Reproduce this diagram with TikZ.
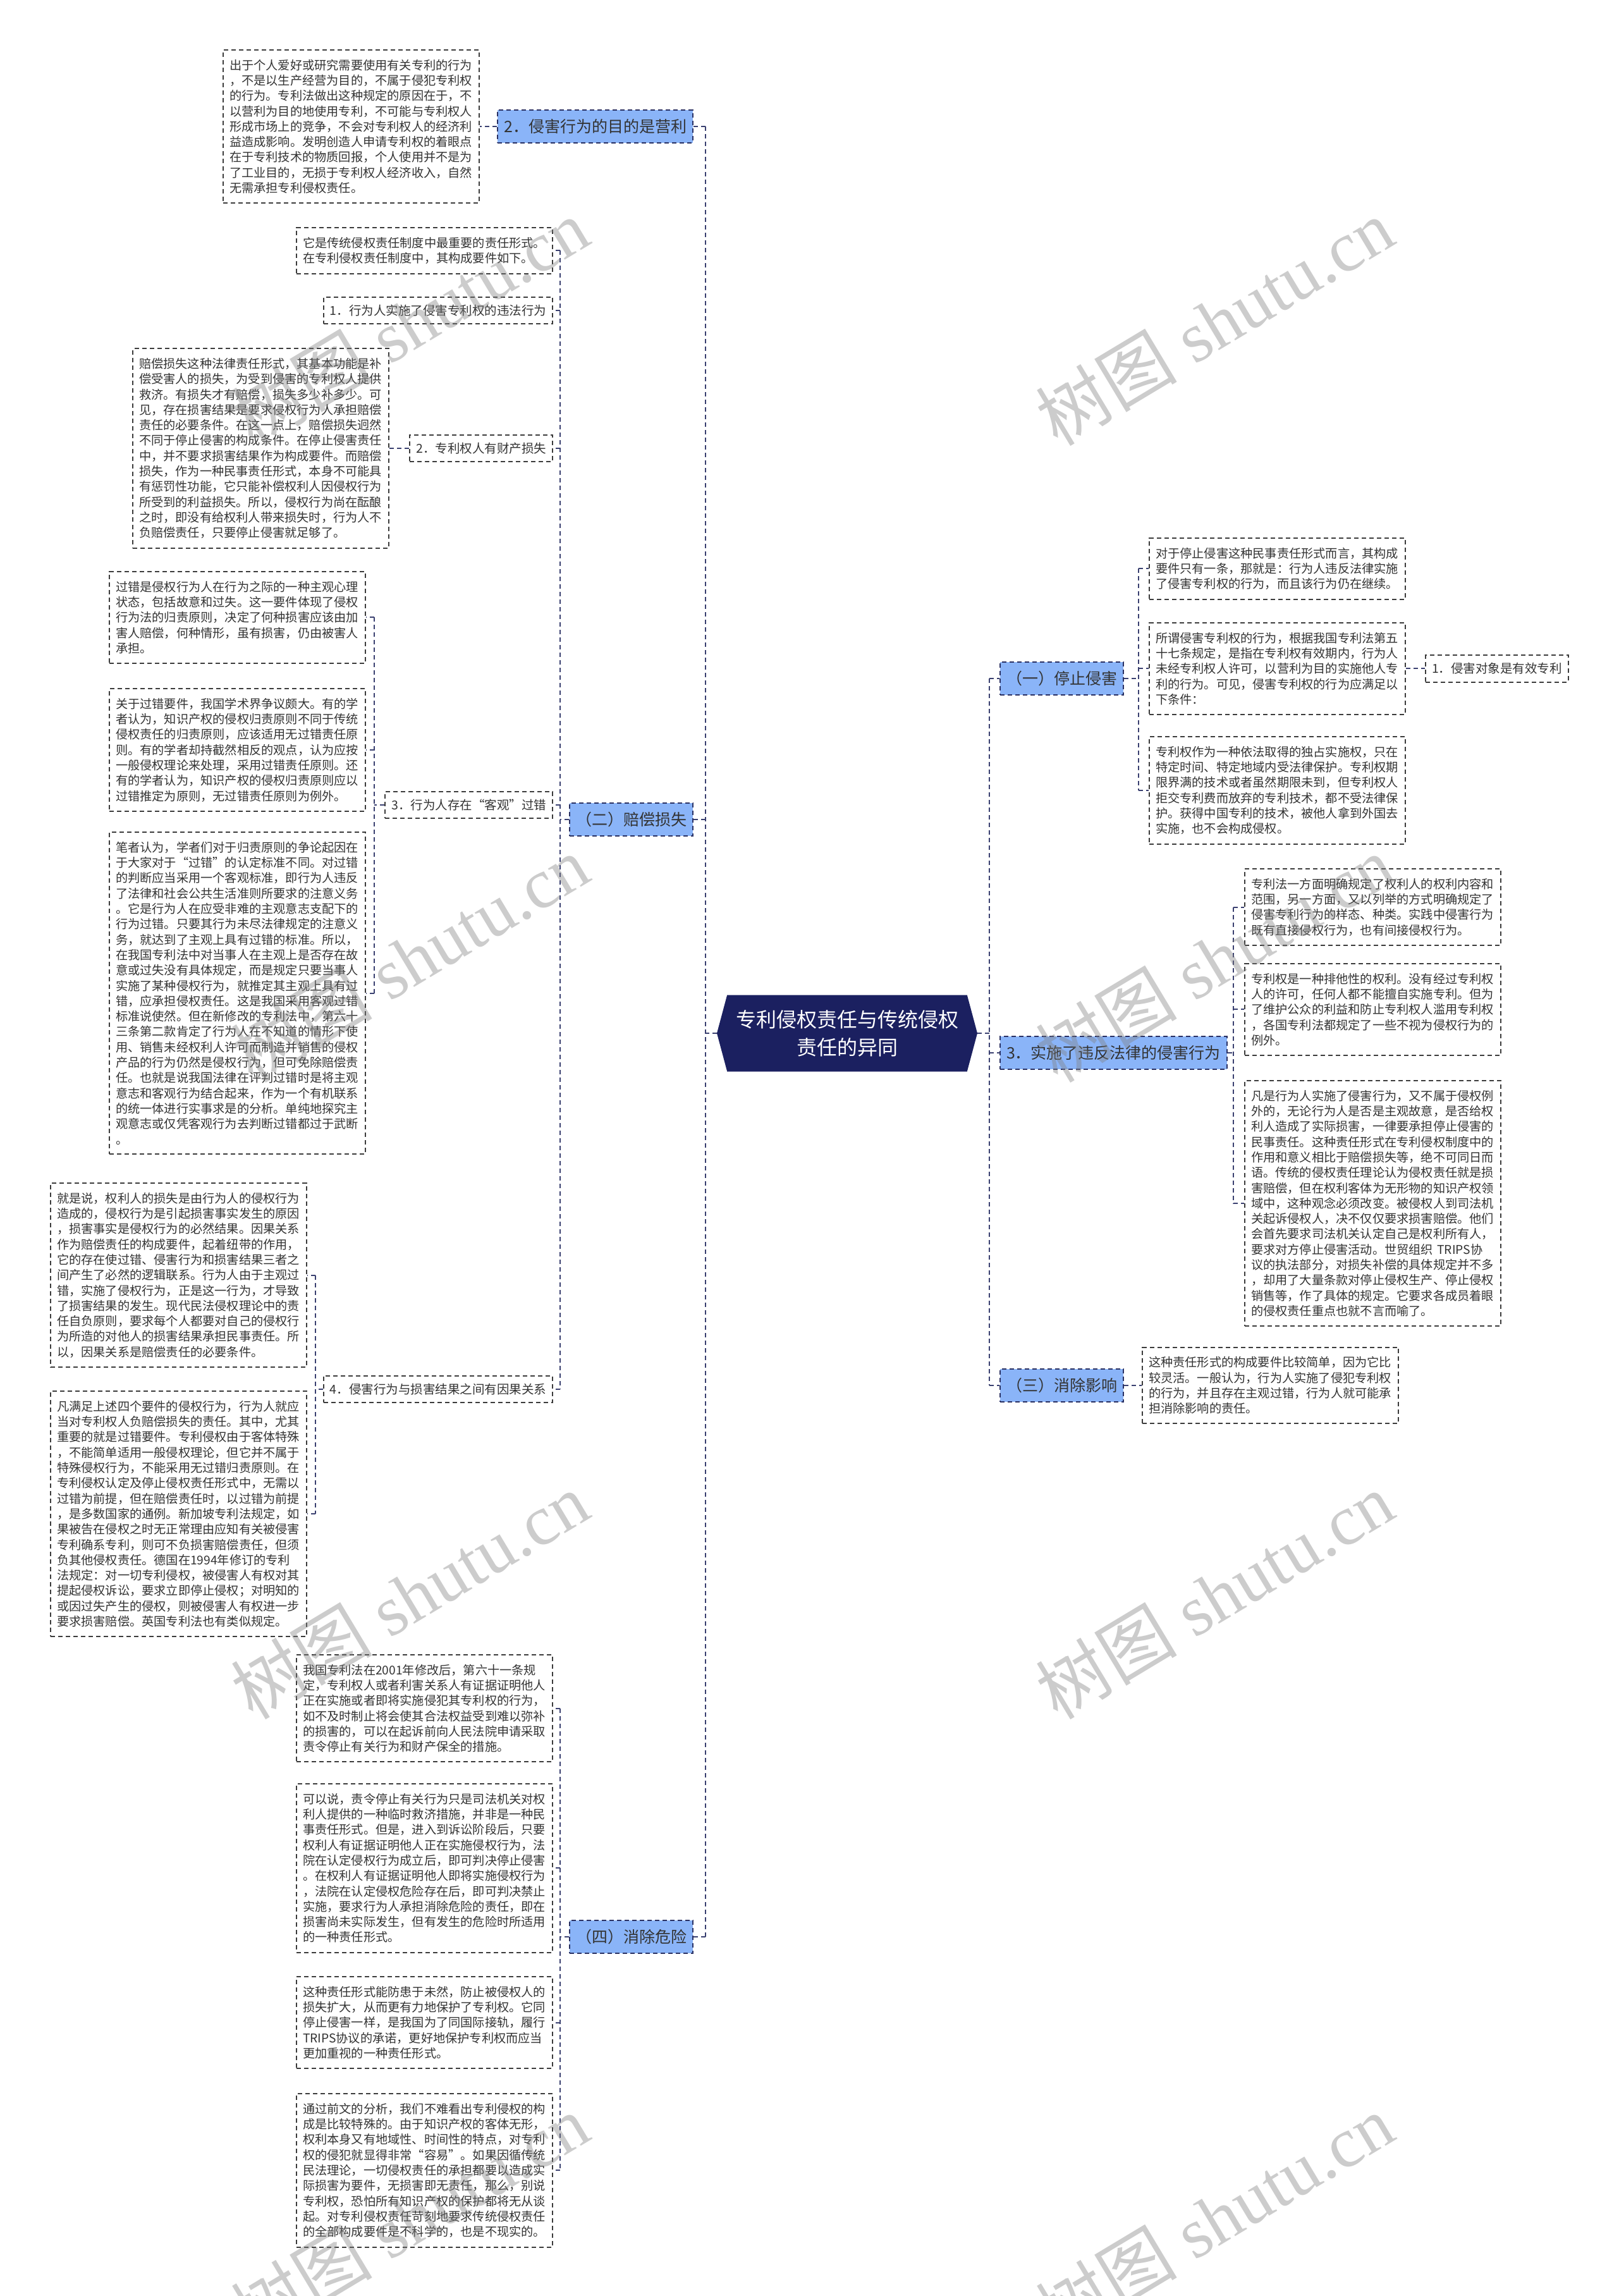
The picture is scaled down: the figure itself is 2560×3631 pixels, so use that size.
\documentclass[tikz,border=0pt]{standalone}
\usepackage{fontspec}
\setmainfont{Liberation Serif}
\newfontfamily\cjk{Noto Sans CJK SC}
\usetikzlibrary{shapes.symbols}
\definecolor{navy}{HTML}{1B2060}
\definecolor{bluefill}{HTML}{8AB4F8}
\definecolor{bordc}{HTML}{2A3163}
\definecolor{leafc}{HTML}{3C3C3C}
\definecolor{txt}{HTML}{333333}
\definecolor{connc}{HTML}{3A4070}
\tikzset{
  dsh/.style={dash pattern=on 7pt off 5pt, line width=2pt},
  leaf/.style={draw=leafc, dsh, fill=white, text=txt, font=\cjk\fontsize{19.2}{24.3}\selectfont, align=left, text width=385pt, inner xsep=10pt, inner ysep=15pt},
  sub/.style={draw=leafc, dsh, fill=white, text=txt, font=\cjk\fontsize{19.5}{24}\selectfont, inner xsep=10pt, inner ysep=12pt},
  mainnode/.style={draw=bordc, dsh, fill=bluefill, text=txt, font=\cjk\fontsize{25}{30}\selectfont, inner xsep=10pt, inner ysep=14pt},
  rootnode/.style={signal, signal to=west and east, signal pointer angle=150, fill=navy, text=white, font=\cjk\fontsize{32}{44}\selectfont, align=center, minimum width=412pt, minimum height=121pt},
  conn/.style={draw=connc, dsh},
  wm/.style={text=gray, opacity=0.4, rotate=31, font=\fontsize{112}{112}\selectfont},
}
\begin{document}
\begin{tikzpicture}[x=1pt,y=-1pt]
\fill[white] (0,0) rectangle (2560,3631);
\useasboundingbox (0,0) rectangle (2560,3631);

% root
\node[rootnode] (root) at (1340,1634) {专利侵权责任与传统侵权\\责任的异同};

% level 1
\node[mainnode, anchor=east] (L1) at (1097,200) {2．侵害行为的目的是营利};
\node[mainnode, anchor=east] (L2) at (1097,1296) {（二）赔偿损失};
\node[mainnode, anchor=east] (L3) at (1097,3063) {（四）消除危险};
\node[mainnode, anchor=west] (R1) at (1581,1073) {（一）停止侵害};
\node[mainnode, anchor=west] (R2) at (1581,1665) {3．实施了违反法律的侵害行为};
\node[mainnode, anchor=west] (R3) at (1581,2191) {（三）消除影响};

% L1 child
\node[leaf, anchor=east] (L1a) at (759,200) {出于个人爱好或研究需要使用有关专利的行为\\，不是以生产经营为目的，不属于侵犯专利权\\的行为。专利法做出这种规定的原因在于，不\\以营利为目的地使用专利，不可能与专利权人\\形成市场上的竞争，不会对专利权人的经济利\\益造成影响。发明创造人申请专利权的着眼点\\在于专利技术的物质回报，个人使用并不是为\\了工业目的，无损于专利权人经济收入，自然\\无需承担专利侵权责任。};

% L2 children
\node[leaf, anchor=north east] (L2i) at (875,359) {它是传统侵权责任制度中最重要的责任形式。\\在专利侵权责任制度中，其构成要件如下。};
\node[sub, anchor=east] (L2a) at (875,491) {1．行为人实施了侵害专利权的违法行为};
\node[sub, anchor=east] (L2b) at (875,709) {2．专利权人有财产损失};
\node[sub, anchor=east] (L2c) at (875,1273) {3．行为人存在“客观”过错};
\node[sub, anchor=east] (L2d) at (875,2197) {4．侵害行为与损害结果之间有因果关系};

\node[leaf, anchor=east] (L2b1) at (616,709) {赔偿损失这种法律责任形式，其基本功能是补\\偿受害人的损失，为受到侵害的专利权人提供\\救济。有损失才有赔偿，损失多少补多少。可\\见，存在损害结果是要求侵权行为人承担赔偿\\责任的必要条件。在这一点上，赔偿损失迥然\\不同于停止侵害的构成条件。在停止侵害责任\\中，并不要求损害结果作为构成要件。而赔偿\\损失，作为一种民事责任形式，本身不可能具\\有惩罚性功能，它只能补偿权利人因侵权行为\\所受到的利益损失。所以，侵权行为尚在酝酿\\之时，即没有给权利人带来损失时，行为人不\\负赔偿责任，只要停止侵害就足够了。};

\node[leaf, anchor=north east] (L2c1) at (579,903) {过错是侵权行为人在行为之际的一种主观心理\\状态，包括故意和过失。这一要件体现了侵权\\行为法的归责原则，决定了何种损害应该由加\\害人赔偿，何种情形，虽有损害，仍由被害人\\承担。};
\node[leaf, anchor=north east] (L2c2) at (579,1088) {关于过错要件，我国学术界争议颇大。有的学\\者认为，知识产权的侵权归责原则不同于传统\\侵权责任的归责原则，应该适用无过错责任原\\则。有的学者却持截然相反的观点，认为应按\\一般侵权理论来处理，采用过错责任原则。还\\有的学者认为，知识产权的侵权归责原则应以\\过错推定为原则，无过错责任原则为例外。};
\node[leaf, anchor=north east] (L2c3) at (579,1315) {笔者认为，学者们对于归责原则的争论起因在\\于大家对于“过错”的认定标准不同。对过错\\的判断应当采用一个客观标准，即行为人违反\\了法律和社会公共生活准则所要求的注意义务\\。它是行为人在应受非难的主观意志支配下的\\行为过错。只要其行为未尽法律规定的注意义\\务，就达到了主观上具有过错的标准。所以，\\在我国专利法中对当事人在主观上是否存在故\\意或过失没有具体规定，而是规定只要当事人\\实施了某种侵权行为，就推定其主观上具有过\\错，应承担侵权责任。这是我国采用客观过错\\标准说使然。但在新修改的专利法中，第六十\\三条第二款肯定了行为人在不知道的情形下使\\用、销售未经权利人许可而制造并销售的侵权\\产品的行为仍然是侵权行为，但可免除赔偿责\\任。也就是说我国法律在评判过错时是将主观\\意志和客观行为结合起来，作为一个有机联系\\的统一体进行实事求是的分析。单纯地探究主\\观意志或仅凭客观行为去判断过错都过于武断\\。};

\node[leaf, anchor=north east] (L2d1) at (486,1870) {就是说，权利人的损失是由行为人的侵权行为\\造成的，侵权行为是引起损害事实发生的原因\\，损害事实是侵权行为的必然结果。因果关系\\作为赔偿责任的构成要件，起着纽带的作用，\\它的存在使过错、侵害行为和损害结果三者之\\间产生了必然的逻辑联系。行为人由于主观过\\错，实施了侵权行为，正是这一行为，才导致\\了损害结果的发生。现代民法侵权理论中的责\\任自负原则，要求每个人都要对自己的侵权行\\为所造的对他人的损害结果承担民事责任。所\\以，因果关系是赔偿责任的必要条件。};
\node[leaf, anchor=north east] (L2d2) at (486,2199) {凡满足上述四个要件的侵权行为，行为人就应\\当对专利权人负赔偿损失的责任。其中，尤其\\重要的就是过错要件。专利侵权由于客体特殊\\，不能简单适用一般侵权理论，但它并不属于\\特殊侵权行为，不能采用无过错归责原则。在\\专利侵权认定及停止侵权责任形式中，无需以\\过错为前提，但在赔偿责任时，以过错为前提\\，是多数国家的通例。新加坡专利法规定，如\\果被告在侵权之时无正常理由应知有关被侵害\\专利确系专利，则可不负损害赔偿责任，但须\\负其他侵权责任。德国在1994年修订的专利\\法规定：对一切专利侵权，被侵害人有权对其\\提起侵权诉讼，要求立即停止侵权；对明知的\\或因过失产生的侵权，则被侵害人有权进一步\\要求损害赔偿。英国专利法也有类似规定。};

% L3 children
\node[leaf, anchor=north east] (L3a) at (875,2616) {我国专利法在2001年修改后，第六十一条规\\定，专利权人或者利害关系人有证据证明他人\\正在实施或者即将实施侵犯其专利权的行为，\\如不及时制止将会使其合法权益受到难以弥补\\的损害的，可以在起诉前向人民法院申请采取\\责令停止有关行为和财产保全的措施。};
\node[leaf, anchor=north east] (L3b) at (875,2820) {可以说，责令停止有关行为只是司法机关对权\\利人提供的一种临时救济措施，并非是一种民\\事责任形式。但是，进入到诉讼阶段后，只要\\权利人有证据证明他人正在实施侵权行为，法\\院在认定侵权行为成立后，即可判决停止侵害\\。在权利人有证据证明他人即将实施侵权行为\\，法院在认定侵权危险存在后，即可判决禁止\\实施，要求行为人承担消除危险的责任，即在\\损害尚未实际发生，但有发生的危险时所适用\\的一种责任形式。};
\node[leaf, anchor=north east] (L3c) at (875,3125) {这种责任形式能防患于未然，防止被侵权人的\\损失扩大，从而更有力地保护了专利权。它同\\停止侵害一样，是我国为了同国际接轨，履行\\TRIPS协议的承诺，更好地保护专利权而应当\\更加重视的一种责任形式。};
\node[leaf, anchor=north east] (L3d) at (875,3310) {通过前文的分析，我们不难看出专利侵权的构\\成是比较特殊的。由于知识产权的客体无形，\\权利本身又有地域性、时间性的特点，对专利\\权的侵犯就显得非常“容易”。如果因循传统\\民法理论，一切侵权责任的承担都要以造成实\\际损害为要件，无损害即无责任，那么，别说\\专利权，恐怕所有知识产权的保护都将无从谈\\起。对专利侵权责任苛刻地要求传统侵权责任\\的全部构成要件是不科学的，也是不现实的。};

% R1 children
\node[leaf, anchor=north west] (R1a) at (1817,850) {对于停止侵害这种民事责任形式而言，其构成\\要件只有一条，那就是：行为人违反法律实施\\了侵害专利权的行为，而且该行为仍在继续。};
\node[leaf, anchor=north west] (R1b) at (1817,984) {所谓侵害专利权的行为，根据我国专利法第五\\十七条规定，是指在专利权有效期内，行为人\\未经专利权人许可，以营利为目的实施他人专\\利的行为。可见，侵害专利权的行为应满足以\\下条件：};
\node[leaf, anchor=north west] (R1c) at (1817,1164) {专利权作为一种依法取得的独占实施权，只在\\特定时间、特定地域内受法律保护。专利权期\\限界满的技术或者虽然期限未到，但专利权人\\拒交专利费而放弃的专利技术，都不受法律保\\护。获得中国专利的技术，被他人拿到外国去\\实施，也不会构成侵权。};
\path (R1b.east) ++(30,0) node[sub, anchor=west] (R1b1) {1．侵害对象是有效专利};

% R2 children
\node[leaf, anchor=north west] (R2a) at (1968,1373) {专利法一方面明确规定了权利人的权利内容和\\范围，另一方面，又以列举的方式明确规定了\\侵害专利行为的样态、种类。实践中侵害行为\\既有直接侵权行为，也有间接侵权行为。};
\node[leaf, anchor=north west] (R2b) at (1968,1523) {专利权是一种排他性的权利。没有经过专利权\\人的许可，任何人都不能擅自实施专利。但为\\了维护公众的利益和防止专利权人滥用专利权\\，各国专利法都规定了一些不视为侵权行为的\\例外。};
\node[leaf, anchor=north west] (R2c) at (1968,1708) {凡是行为人实施了侵害行为，又不属于侵权例\\外的，无论行为人是否是主观故意，是否给权\\利人造成了实际损害，一律要承担停止侵害的\\民事责任。这种责任形式在专利侵权制度中的\\作用和意义相比于赔偿损失等，绝不可同日而\\语。传统的侵权责任理论认为侵权责任就是损\\害赔偿，但在权利客体为无形物的知识产权领\\域中，这种观念必须改变。被侵权人到司法机\\关起诉侵权人，决不仅仅要求损害赔偿。他们\\会首先要求司法机关认定自己是权利所有人，\\要求对方停止侵害活动。世贸组织 TRIPS协\\议的执法部分，对损失补偿的具体规定并不多\\，却用了大量条款对停止侵权生产、停止侵权\\销售等，作了具体的规定。它要求各成员着眼\\的侵权责任重点也就不言而喻了。};

% R3 child
\node[leaf, anchor=west] (R3a) at (1806,2191) {这种责任形式的构成要件比较简单，因为它比\\较灵活。一般认为，行为人实施了侵犯专利权\\的行为，并且存在主观过错，行为人就可能承\\担消除影响的责任。};

% trunks
\coordinate (tL) at (1116,0);
\coordinate (tR) at (1565,0);
\coordinate (tB) at (886,0);
\coordinate (tC) at (592,0);
\coordinate (tD) at (499,0);
\coordinate (tE) at (886,0);
\coordinate (tF) at (1801,0);
\coordinate (tG) at (1951,0);

% root to level 1
\draw[conn] (root.west) -- (root.west -| tL);
\draw[conn] (L1.east -| tL) -- (L3.east -| tL);
\foreach \n in {L1,L2,L3} \draw[conn] (\n.east -| tL) -- (\n.east);
\draw[conn] (root.east) -- (root.east -| tR);
\draw[conn] (R1.west -| tR) -- (R3.west -| tR);
\foreach \n in {R1,R2,R3} \draw[conn] (\n.west -| tR) -- (\n.west);

% L1
\draw[conn] (L1.west) -- (L1a.east);
% L2
\draw[conn] (L2.west) -- (L2.west -| tB);
\draw[conn] (L2i.east -| tB) -- (L2d.east -| tB);
\foreach \n in {L2i,L2a,L2b,L2c,L2d} \draw[conn] (\n.east -| tB) -- (\n.east);
\draw[conn] (L2b.west) -- (L2b1.east);
\draw[conn] (L2c.west) -- (L2c.west -| tC);
\draw[conn] (L2c1.east -| tC) -- (L2c3.east -| tC);
\foreach \n in {L2c1,L2c2,L2c3} \draw[conn] (\n.east -| tC) -- (\n.east);
\draw[conn] (L2d.west) -- (L2d.west -| tD);
\draw[conn] (L2d1.east -| tD) -- (L2d2.east -| tD);
\foreach \n in {L2d1,L2d2} \draw[conn] (\n.east -| tD) -- (\n.east);
% L3
\draw[conn] (L3.west) -- (L3.west -| tE);
\draw[conn] (L3a.east -| tE) -- (L3d.east -| tE);
\foreach \n in {L3a,L3b,L3c,L3d} \draw[conn] (\n.east -| tE) -- (\n.east);
% R1
\draw[conn] (R1.east) -- (R1.east -| tF);
\draw[conn] (R1a.west -| tF) -- (R1c.west -| tF);
\foreach \n in {R1a,R1b,R1c} \draw[conn] (\n.west -| tF) -- (\n.west);
\draw[conn] (R1b.east) -- (R1b1.west);
% R2
\draw[conn] (R2.east) -- (R2.east -| tG);
\draw[conn] (R2a.west -| tG) -- (R2c.west -| tG);
\foreach \n in {R2a,R2b,R2c} \draw[conn] (\n.west -| tG) -- (\n.west);
% R3
\draw[conn] (R3.east) -- (R3a.west);

% watermarks
\foreach \x/\y [count=\i] in {648/509,1921/509,648/1516,1921/1516,648/2523,1921/2523,648/3507,1921/3507}
  \node[wm] (wm\i) at (\x,\y) {{\cjk 树图} shutu.cn};
\end{tikzpicture}
\end{document}
